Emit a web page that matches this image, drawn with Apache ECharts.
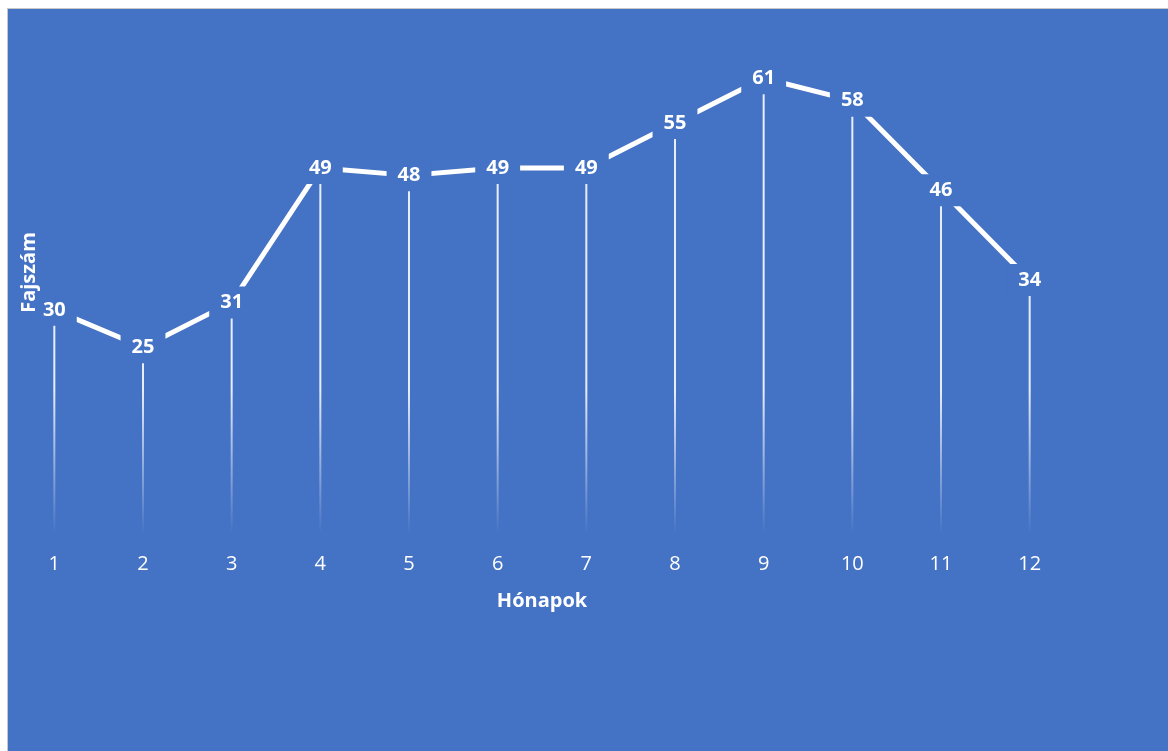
<!DOCTYPE html>
<html>
<head>
<meta charset="utf-8">
<script src="https://cdn.jsdelivr.net/npm/echarts@6/dist/echarts.min.js"></script>
<style>
html,body{margin:0;padding:0;background:#fff;width:1168px;height:751px;overflow:hidden;}
#chart{position:absolute;left:7px;top:8px;width:1161px;height:743px;border-left:1px solid #c8c8c8;border-top:1px solid #c8c8c8;box-sizing:border-box;}
</style>
</head>
<body>
<div id="chart"></div>
<script>
const months = ['1','2','3','4','5','6','7','8','9','10','11','12'];
const fajszam = [30,25,31,49,48,49,49,55,61,58,46,34];
const xTitle = 'Hónapok';
const yTitle = 'Fajszám';
const BG = '#4472C4';
const FONT = '"Open Sans", "Noto Sans", sans-serif';

const chart = echarts.init(document.getElementById('chart'), null, {renderer:'canvas'});
chart.setOption({
  backgroundColor: BG,
  animation: false,
  grid: {left: 2, right: 94, top: 2, bottom: 217, containLabel: false, outerBoundsMode: 'none'},
  xAxis: {
    type: 'category',
    data: months,
    boundaryGap: true,
    axisLine: {show: false},
    axisTick: {show: false},
    axisLabel: {color: '#fff', fontSize: 20, fontFamily: FONT, margin: 20},
    name: xTitle,
    nameLocation: 'middle',
    nameGap: 57,
    nameTextStyle: {color: '#fff', fontSize: 20, fontWeight: 'bold', fontFamily: FONT}
  },
  yAxis: {
    type: 'value',
    min: 0, max: 70, interval: 10,
    z: 10,
    axisLine: {show: false},
    axisTick: {show: false},
    axisLabel: {show: false},
    splitLine: {show: false},
    name: yTitle,
    nameLocation: 'middle',
    nameGap: -29,
    nameRotate: 90,
    nameTextStyle: {color: '#fff', fontSize: 20, fontWeight: 'bold', fontFamily: FONT}
  },
  series: [
    {
      type: 'bar',
      data: fajszam,
      barWidth: 2,
      z: 1,
      itemStyle: {
        color: new echarts.graphic.LinearGradient(0, 380, 0, 525, [
          {offset: 0, color: 'rgba(255,255,255,0.88)'},
          {offset: 1, color: 'rgba(255,255,255,0)'}
        ], true)
      },
      silent: true
    },
    {
      type: 'line',
      data: fajszam,
      z: 3,
      symbol: 'circle',
      symbolSize: 2,
      showSymbol: true,
      itemStyle: {color: '#fff'},
      lineStyle: {color: '#fff', width: 5},
      labelLayout: {hideOverlap: false},
      label: {
        show: true,
        position: 'inside',
        color: '#fff',
        fontSize: 20,
        fontWeight: 'bold',
        fontFamily: FONT,
        backgroundColor: BG,
        padding: [6, 11, 6, 11]
      }
    }
  ]
});
</script>
</body>
</html>
